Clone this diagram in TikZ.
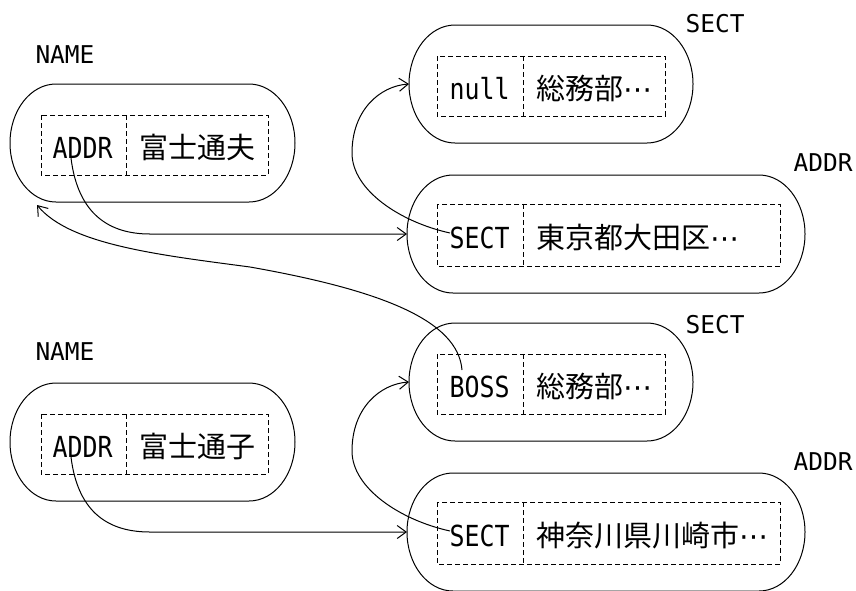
\documentclass[tikz,border=0pt]{standalone}
\usepackage{fontspec}
\newfontfamily\cjkfont{Noto Sans CJK JP}
\newfontfamily\hwfont[FakeStretch=0.86]{DejaVu Sans Mono}
\newfontfamily\tagfont{DejaVu Sans Mono}
\newfontfamily\symfont{DejaVu Sans}
\newcommand\midells{{\symfont ⋯}}
\usetikzlibrary{arrows.meta,calc}
\newcommand\capsulepath[3]{% cx, cy, half width
  \draw[capsule] (#1-#3+46,#2-59) -- (#1+#3-46,#2-59)
    arc[start angle=90,end angle=-90,x radius=46pt,y radius=59pt]
    -- (#1-#3+46,#2+59)
    arc[start angle=270,end angle=90,x radius=46pt,y radius=59pt] -- cycle;
}
\begin{document}
\begin{tikzpicture}[x=1pt,y=-1pt,line width=1pt,
  capsule/.style={draw=black,line width=1pt},
  field/.style={draw=black,line width=1pt,dash pattern=on 5pt off 3pt},
  hwtext/.style={inner sep=0pt,anchor=base west,font=\hwfont\fontsize{29}{29}\selectfont},
  jtext/.style={inner sep=0pt,anchor=base west,font=\cjkfont\fontsize{29}{29}\selectfont},
  tagtext/.style={inner sep=0pt,anchor=base west,font=\tagfont\fontsize{24.5}{24.5}\selectfont},
  link/.style={draw=black,line width=1pt,-{Straight Barb[length=9pt,width=13pt,line width=1pt]}}]
\useasboundingbox (0,0) rectangle (856,590);

% ---- capsules
\capsulepath{152.5}{143}{142.5}
\capsulepath{152.5}{442}{142.5}
\capsulepath{551}{84}{142}
\capsulepath{606}{234}{199}
\capsulepath{551}{382}{142}
\capsulepath{606}{532}{199}
\coordinate (name1w) at (10,143);
\coordinate (name2w) at (10,442);
\coordinate (sect1w) at (409,84);
\coordinate (addr1w) at (407,234);
\coordinate (sect2w) at (409,382);
\coordinate (addr2w) at (407,532);

% ---- dashed fields
\draw[field] (41,115) rectangle (268,175);
\draw[field] (126,115) -- (126,175);
\draw[field] (41,414) rectangle (268,474);
\draw[field] (126,414) -- (126,474);
\draw[field] (437,56) rectangle (665,116);
\draw[field] (523,56) -- (523,116);
\draw[field] (437,204) rectangle (780,266);
\draw[field] (523,204) -- (523,266);
\draw[field] (437,354) rectangle (665,414);
\draw[field] (523,354) -- (523,414);
\draw[field] (437,502) rectangle (780,564);
\draw[field] (523,502) -- (523,564);

% ---- field texts
\node[hwtext] (n1a) at (52,158) {ADDR};
\node[jtext]  (n1b) at (139,158) {富士通夫};
\node[hwtext] (n2a) at (52,457) {ADDR};
\node[jtext]  (n2b) at (139,457) {富士通子};
\node[hwtext] (s1a) at (449,99) {null};
\node[jtext]  (s1b) at (536,99) {総務部\midells};
\node[hwtext] (a1a) at (449,248) {SECT};
\node[jtext]  (a1b) at (536,248) {東京都大田区\midells};
\node[hwtext] (s2a) at (449,397) {BOSS};
\node[jtext]  (s2b) at (536,397) {総務部\midells};
\node[hwtext] (a2a) at (449,546) {SECT};
\node[jtext]  (a2b) at (536,546) {神奈川県川崎市\midells};

% ---- record labels
\node[tagtext] (t1) at (35,63) {NAME};
\node[tagtext] (t2) at (35,360) {NAME};
\node[tagtext] (t3) at (685,32) {SECT};
\node[tagtext] (t4) at (685,333) {SECT};
\node[tagtext] (t5) at (793,171) {ADDR};
\node[tagtext] (t6) at (793,470) {ADDR};

% ---- connector ends
\coordinate (c1s) at ($(n1a.base west)+(19,0)$);
\coordinate (c4s) at ($(n2a.base west)+(19,0)$);
\coordinate (c2s) at ($(a1a.base west)+(1,-15)$);
\coordinate (c5s) at ($(a2a.base west)+(1,-15)$);
\coordinate (c3s) at ($(s2a.base west)+(13,-27)$);
\coordinate (c3e) at (37,205);

% ---- connectors
\draw[link] (c1s) .. controls (78,215) and (110,234) .. (150,234) -- (addr1w);
\draw[link] (c4s) .. controls (78,514) and (110,532) .. (150,532) -- (addr2w);
\draw[link] (c2s) .. controls (400,222) and (352,190) .. (352,153)
                  .. controls (352,110) and (380,86) .. (sect1w);
\draw[link] (c5s) .. controls (400,520) and (352,488) .. (352,451)
                  .. controls (352,408) and (380,384) .. (sect2w);
\draw[link] (c3s) .. controls (458,320) and (380,290) .. (250,267)
                  .. controls (160,255) and (70,245) .. (c3e);
\end{tikzpicture}
\end{document}
